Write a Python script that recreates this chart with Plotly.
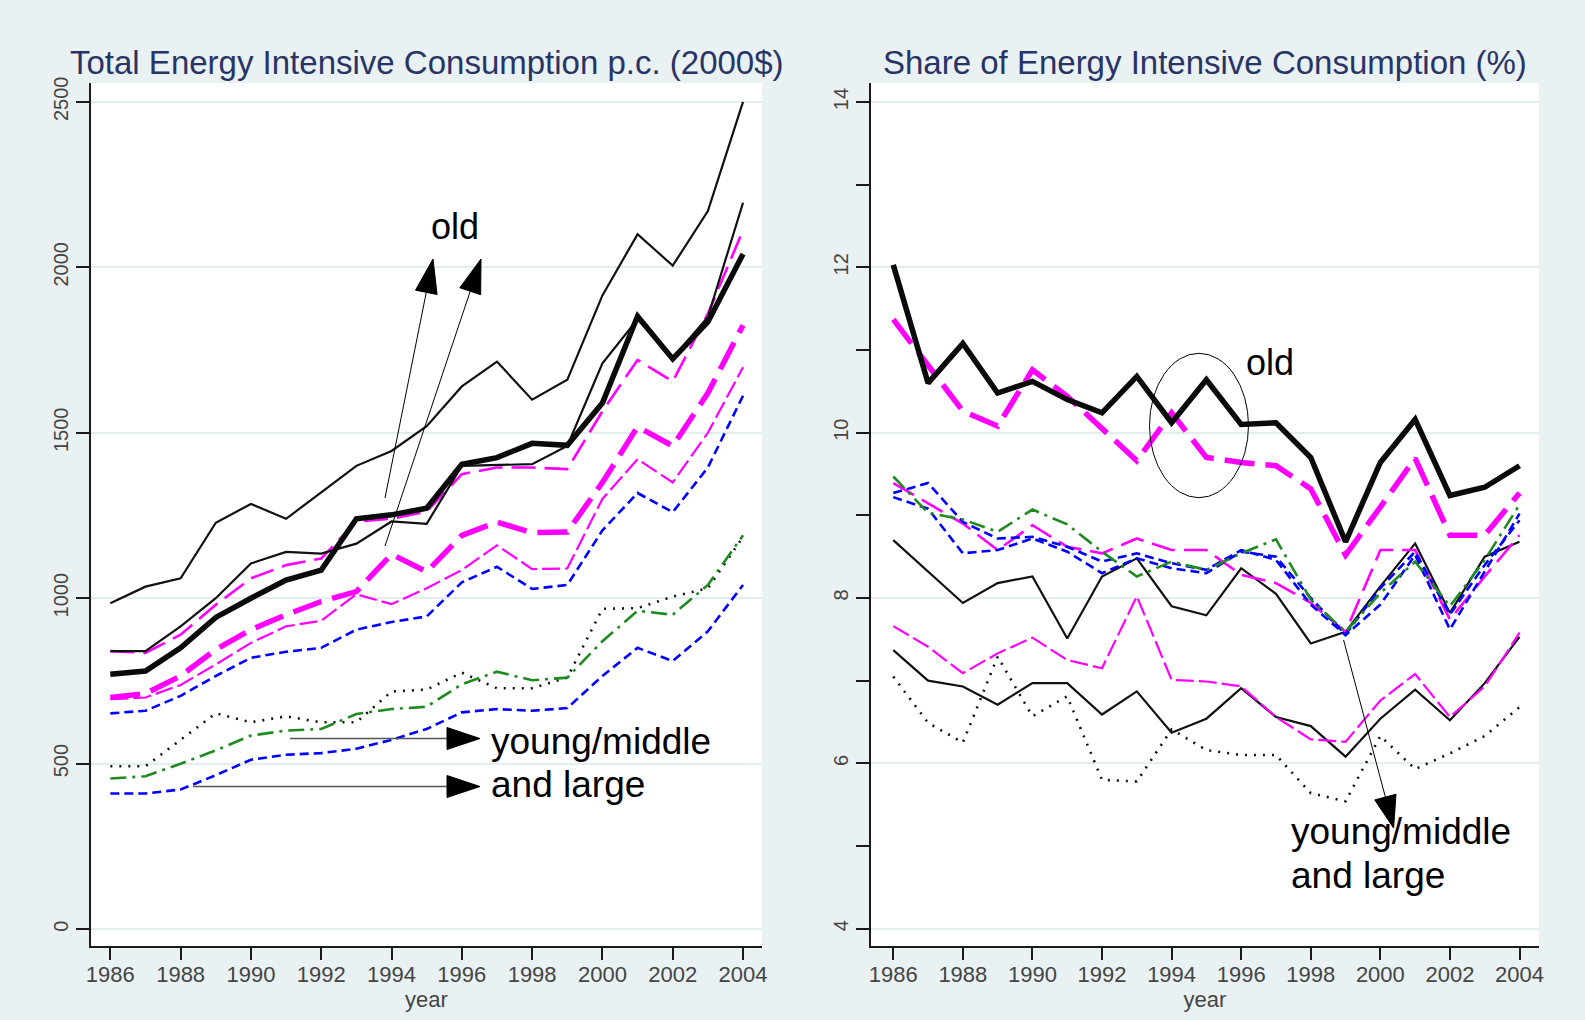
import math
import plotly.graph_objects as go

W, H = 1585, 1020

# ---------------- data ----------------
years = [1986, 1987, 1988, 1989, 1990, 1991, 1992, 1993, 1994, 1995,
         1996, 1997, 1998, 1999, 2000, 2001, 2002, 2003, 2004]
x_tick_labels = ["1986", "1988", "1990", "1992", "1994", "1996", "1998", "2000", "2002", "2004"]
x_tick_vals = [1986, 1988, 1990, 1992, 1994, 1996, 1998, 2000, 2002, 2004]
left_y_ticks = [0, 500, 1000, 1500, 2000, 2500]
right_y_ticks = [4, 6, 8, 10, 12, 14]
right_y_minor = [5, 7, 9, 11, 13]

title_left = "Total Energy Intensive Consumption p.c. (2000$)"
title_right = "Share of Energy Intensive Consumption (%)"

# Left panel: total energy intensive consumption p.c. (2000$)
L_black_thin_top = [985, 1035, 1060, 1228, 1285, 1240, 1320, 1400, 1445, 1520,
                    1640, 1715, 1600, 1660, 1915, 2100, 2005, 2170, 2500]
L_black_thick = [770, 780, 850, 942, 1000, 1055, 1085, 1240, 1252, 1272,
                 1405, 1425, 1468, 1462, 1590, 1852, 1723, 1835, 2040]
L_black_thin_2 = [840, 840, 915, 1000, 1105, 1140, 1135, 1165, 1232, 1225,
                  1400, 1402, 1405, 1460, 1710, 1843, 1725, 1850, 2195]
L_pink_thin_up = [840, 835, 890, 980, 1060, 1100, 1120, 1232, 1240, 1262,
                  1375, 1395, 1395, 1390, 1565, 1720, 1655, 1860, 2112]
L_pink_thick = [700, 712, 765, 845, 905, 950, 990, 1020, 1133, 1080,
                1190, 1230, 1198, 1200, 1350, 1518, 1460, 1620, 1825]
L_pink_thin_low = [695, 700, 738, 800, 865, 915, 932, 1012, 982, 1030,
                   1085, 1160, 1088, 1090, 1300, 1420, 1350, 1500, 1698]
L_blue_up = [652, 660, 705, 765, 820, 838, 850, 905, 928, 945,
             1048, 1095, 1028, 1040, 1205, 1318, 1260, 1395, 1612]
L_dotted = [492, 492, 572, 652, 625, 643, 625, 625, 718, 724,
            775, 728, 728, 760, 968, 970, 1005, 1030, 1185]
L_green = [455, 462, 500, 540, 585, 600, 605, 650, 665, 672,
           740, 778, 752, 760, 870, 962, 950, 1040, 1190]
L_blue_low = [410, 410, 422, 465, 512, 527, 532, 545, 572, 605,
              655, 665, 660, 668, 765, 850, 810, 900, 1040]

# Right panel: share of energy intensive consumption (%)
R_black_thick = [12.03, 10.60, 11.08, 10.48, 10.62, 10.40, 10.24, 10.68, 10.12, 10.64,
                 10.10, 10.12, 9.70, 8.68, 9.64, 10.16, 9.24, 9.34, 9.60]
R_pink_thick = [11.37, 10.82, 10.26, 10.08, 10.76, 10.44, 10.04, 9.66, 10.24, 9.70,
                9.64, 9.60, 9.32, 8.52, 9.10, 9.69, 8.76, 8.76, 9.27]
R_green = [9.47, 9.03, 8.95, 8.80, 9.07, 8.89, 8.56, 8.26, 8.44, 8.34,
           8.54, 8.71, 7.98, 7.59, 8.06, 8.44, 7.90, 8.46, 9.13]
R_blue_a = [9.27, 9.39, 8.92, 8.72, 8.74, 8.62, 8.44, 8.54, 8.42, 8.34,
            8.58, 8.46, 7.92, 7.55, 7.92, 8.52, 7.62, 8.32, 9.02]
R_blue_b = [9.22, 9.08, 8.54, 8.58, 8.72, 8.56, 8.30, 8.48, 8.36, 8.30,
            8.56, 8.50, 8.00, 7.56, 8.12, 8.56, 7.80, 8.40, 8.94]
R_pink_thin_up = [9.39, 9.15, 8.90, 8.58, 8.88, 8.62, 8.54, 8.72, 8.58, 8.58,
                  8.28, 8.18, 7.94, 7.59, 8.58, 8.58, 7.74, 8.26, 8.76]
R_black_mid = [8.70, 8.32, 7.94, 8.18, 8.26, 7.51, 8.26, 8.48, 7.90, 7.79,
               8.36, 8.05, 7.45, 7.59, 8.14, 8.66, 7.82, 8.50, 8.68]
R_pink_thin_low = [7.66, 7.41, 7.09, 7.33, 7.52, 7.25, 7.15, 8.02, 7.01, 6.99,
                   6.93, 6.56, 6.29, 6.26, 6.76, 7.08, 6.56, 6.93, 7.58]
R_black_low = [7.37, 7.00, 6.93, 6.71, 6.97, 6.97, 6.59, 6.87, 6.37, 6.54,
               6.91, 6.56, 6.45, 6.08, 6.54, 6.89, 6.52, 6.97, 7.53]
R_dotted = [7.05, 6.49, 6.25, 7.29, 6.57, 6.81, 5.80, 5.78, 6.41, 6.16,
            6.10, 6.10, 5.64, 5.54, 6.33, 5.93, 6.12, 6.33, 6.68]

# ---------------- styles ----------------
BLACK = "#0a0a0a"
PINK = "#FF00FF"
BLUE = "#0000FF"
GREEN = "#1F8A1F"
S = {
    "black_thin": dict(color="#111111", width=2.2, dash="solid"),
    "black_thick": dict(color=BLACK, width=5.5, dash="solid"),
    "pink_thin_up": dict(color=PINK, width=2.6, dash="24px,9px"),
    "pink_thick": dict(color=PINK, width=5.5, dash="30px,11px"),
    "pink_thin_low": dict(color=PINK, width=2.2, dash="18px,5px"),
    "blue": dict(color=BLUE, width=2.6, dash="9px,5px"),
    "green": dict(color=GREEN, width=2.6, dash="16px,6px,3px,6px"),
    "dotted": dict(color="#111111", width=2.6, dash="2px,7px"),
}

FONT = "Liberation Sans, Arial, Helvetica, sans-serif"
BG = "#E9F1F3"
GRID = "#E3ECEF"
AXC = "#1a1a1a"
TICKC = "#444444"
TITLEC = "#283466"

fig = go.Figure()


def add(xa, ya, y, style):
    fig.add_trace(go.Scatter(x=years, y=y, mode="lines", line=S[style],
                             xaxis=xa, yaxis=ya, hoverinfo="skip", showlegend=False))


left = [
    (L_dotted, "dotted"), (L_blue_low, "blue"), (L_green, "green"), (L_blue_up, "blue"),
    (L_pink_thin_low, "pink_thin_low"), (L_pink_thin_up, "pink_thin_up"),
    (L_pink_thick, "pink_thick"), (L_black_thin_2, "black_thin"),
    (L_black_thin_top, "black_thin"), (L_black_thick, "black_thick"),
]
right = [
    (R_dotted, "dotted"), (R_black_low, "black_thin"), (R_pink_thin_low, "pink_thin_low"),
    (R_black_mid, "black_thin"), (R_pink_thin_up, "pink_thin_up"), (R_blue_b, "blue"),
    (R_blue_a, "blue"), (R_green, "green"), (R_pink_thick, "pink_thick"),
    (R_black_thick, "black_thick"),
]
for y, st in left:
    add("x", "y", y, st)
for y, st in right:
    add("x2", "y2", y, st)

# ---------------- layout ----------------
top_px, bot_px = 83, 946
ydom = [1 - bot_px / H, 1 - top_px / H]
lx = [91, 762]
rx = [871, 1539]

xcommon = dict(tickmode="array", tickvals=x_tick_vals, ticktext=x_tick_labels,
               ticks="outside", ticklen=12, tickwidth=2, tickcolor=AXC,
               showline=True, linecolor=AXC, linewidth=2, showgrid=False,
               zeroline=False, automargin=False, ticklabelstandoff=-4,
               tickfont=dict(family=FONT, size=22, color=TICKC),
               title=dict(text="year", font=dict(family=FONT, size=22, color=TICKC), standoff=2))
ycommon = dict(ticks="outside", ticklen=13, tickwidth=2, tickcolor=AXC,
               showline=True, linecolor=AXC, linewidth=2, showgrid=True,
               gridcolor=GRID, gridwidth=2, zeroline=False, automargin=False,
               tickangle=-90, tickfont=dict(family=FONT, size=20, color=TICKC))

fig.update_layout(
    width=W, height=H,
    margin=dict(l=0, r=0, t=0, b=0),
    paper_bgcolor=BG, plot_bgcolor="white",
    showlegend=False,
    xaxis=dict(domain=[lx[0] / W, lx[1] / W], range=[1985.45, 2004.54], anchor="y", **xcommon),
    yaxis=dict(domain=ydom, range=[-51, 2557], anchor="x", tickmode="array",
               tickvals=left_y_ticks, ticktext=[str(v) for v in left_y_ticks], **ycommon),
    xaxis2=dict(domain=[rx[0] / W, rx[1] / W], range=[1985.36, 2004.56], anchor="y2", **xcommon),
    yaxis2=dict(domain=ydom, range=[3.79, 14.23], anchor="x2", tickmode="array",
                tickvals=right_y_ticks, ticktext=[str(v) for v in right_y_ticks],
                minor=dict(tickvals=right_y_minor, ticks="outside", ticklen=13,
                           tickwidth=2, tickcolor=AXC, showgrid=False),
                **ycommon),
)


def P(x, y):
    return x / W, 1 - y / H


annots = []
# titles
for txt, cx in [(title_left, (lx[0] + lx[1]) / 2), (title_right, (rx[0] + rx[1]) / 2)]:
    px_, py_ = P(cx, 62)
    annots.append(dict(text=txt, x=px_, y=py_, xref="paper", yref="paper",
                       xanchor="center", yanchor="middle", showarrow=False,
                       font=dict(family=FONT, size=33, color=TITLEC)))


def label(txt, x, y, anchor, size):
    px_, py_ = P(x, y)
    annots.append(dict(text=txt, x=px_, y=py_, xref="paper", yref="paper",
                       xanchor=anchor, yanchor="middle", showarrow=False,
                       font=dict(family=FONT, size=size, color="black")))


label("old", 455, 226, "center", 36)
label("old", 1244, 362, "left", 36)
label("young/middle", 489, 741, "left", 37)
label("and large", 489, 784, "left", 37)
label("young/middle", 1289, 831, "left", 37)
label("and large", 1289, 875, "left", 37)

shapes = []


def arrow(x0, y0, x1, y1, L=34, Wd=22, shaft_color="black", shaft_w=1):
    dx, dy = x1 - x0, y1 - y0
    n = math.hypot(dx, dy)
    ux, uy = dx / n, dy / n
    bx, by = x1 - L * ux, y1 - L * uy
    px, py = -uy, ux
    a = P(x0, y0)
    b = P(bx, by)
    shapes.append(dict(type="line", xref="paper", yref="paper", x0=a[0], y0=a[1],
                       x1=b[0], y1=b[1], line=dict(color=shaft_color, width=shaft_w)))
    c1 = P(bx + px * Wd / 2, by + py * Wd / 2)
    c2 = P(bx - px * Wd / 2, by - py * Wd / 2)
    t = P(x1, y1)
    path = f"M {t[0]},{t[1]} L {c1[0]},{c1[1]} L {c2[0]},{c2[1]} Z"
    shapes.append(dict(type="path", xref="paper", yref="paper", path=path,
                       fillcolor="black", line=dict(color="black", width=1)))


arrow(385, 498, 433, 259)
arrow(385, 546, 481, 259)
arrow(290, 738.5, 480, 738.5, L=33, Wd=22, shaft_color="#555555", shaft_w=1.5)
arrow(193, 786.5, 480, 786.5, L=33, Wd=22, shaft_color="#555555", shaft_w=1.5)
arrow(1343.6, 640, 1393.6, 828, L=32, Wd=22)

e0 = P(1149.5, 497.7)
e1 = P(1248.5, 353.3)
shapes.append(dict(type="circle", xref="paper", yref="paper", x0=e0[0], y0=e0[1],
                   x1=e1[0], y1=e1[1], line=dict(color="black", width=1)))

fig.update_layout(annotations=annots, shapes=shapes)

fig.write_html("out.html", config={"displayModeBar": False},
               post_script="document.body.style.margin='0';document.body.style.overflow='hidden';")
